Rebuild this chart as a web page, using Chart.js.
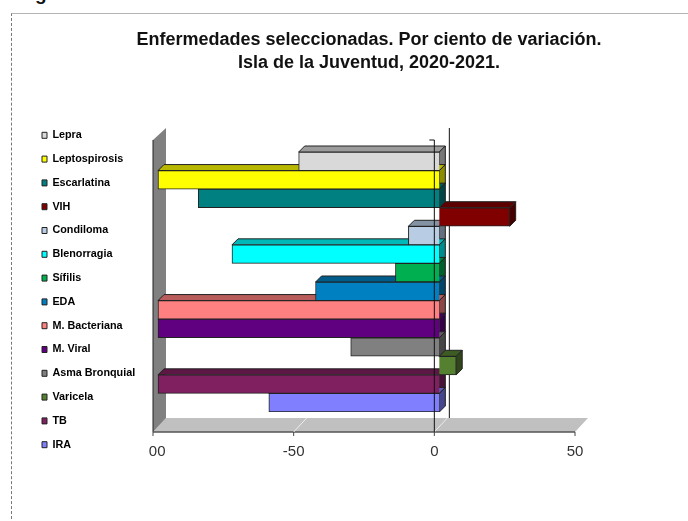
<!DOCTYPE html>
<html>
<head>
<meta charset="utf-8">
<script src="https://cdn.jsdelivr.net/npm/chart.js@4"></script>
<style>
  html, body { margin: 0; padding: 0; background: #fff; overflow: hidden; }
  #page { position: relative; width: 688px; height: 521px; overflow: hidden; }
  #frame { position: absolute; left: 11px; top: 13px; width: 680px; height: 510px; border-top: 1px solid #b5b5b5; border-left: 1px dashed #777; }
  #cut { position: absolute; left: 35px; top: -17px; font: bold 19px "Liberation Sans", Arial, sans-serif; color: #111; }
  canvas { position: absolute; left: 29px; top: 0; }
</style>
</head>
<body>
<div id="page">
  <div id="frame"></div>
  <div id="cut">g</div>
  <canvas id="chart" width="680" height="521"></canvas>
</div>
<script>
const categories = ['Lepra', 'Leptospirosis', 'Escarlatina', 'VIH', 'Condiloma', 'Blenorragia', 'Sífilis', 'EDA', 'M. Bacteriana', 'M. Viral', 'Asma Bronquial', 'Varicela', 'TB', 'IRA'];
const variation = [-50, -100, -85.7, 25, -11, -73.7, -15.6, -44, -100, -100, -31.5, 6, -100, -60.6];
const barColors = ['#d9d9d9', '#ffff00', '#008080', '#800000', '#b8cce4', '#00ffff', '#00b050', '#0080c0', '#ff8080', '#600080', '#808080', '#558030', '#802060', '#8080ff'];
const tickValues = [-100, -50, 0, 50];
const tickLabels = ['  00', '-50', '0', '50'];

const AREA_LEFT = 124;   // canvas px where the -100 tick sits
const RIGHT_GAP = 134;
const BAR_SHIFT = 5 / 2.813; // bars sit a little behind the axis plane, in axis units
const BAR_DEPTH = 6;
const LEGEND_DROP = 48;

function darken(hex, f) {
  const n = parseInt(hex.slice(1), 16);
  const r = Math.round((n >> 16 & 255) * f);
  const g = Math.round((n >> 8 & 255) * f);
  const b = Math.round((n & 255) * f);
  return `rgb(${r},${g},${b})`;
}

function poly(ctx, pts, fill, stroke) {
  ctx.beginPath();
  pts.forEach((p, i) => i ? ctx.lineTo(p[0], p[1]) : ctx.moveTo(p[0], p[1]));
  ctx.closePath();
  ctx.fillStyle = fill;
  ctx.fill();
  if (stroke) {
    ctx.strokeStyle = stroke;
    ctx.lineWidth = 1;
    ctx.stroke();
  }
}

function line(ctx, x1, y1, x2, y2, color, w) {
  ctx.beginPath();
  ctx.moveTo(x1, y1);
  ctx.lineTo(x2, y2);
  ctx.strokeStyle = color;
  ctx.lineWidth = w || 1;
  ctx.stroke();
}

// walls, floor and the top/right faces of the bars
const box3d = {
  id: 'box3d',
  afterLayout(chart) {
    chart.legend.top += LEGEND_DROP;
    chart.legend.bottom += LEGEND_DROP;
  },
  beforeDatasetsDraw(chart) {
    const ctx = chart.ctx;
    const xs = chart.scales.x;
    const area = chart.chartArea;
    const top = area.top - 12;
    const bottom = area.bottom + 20;
    const dx = 13;
    const dy = 14;
    const left = xs.getPixelForValue(-100);
    const right = xs.getPixelForValue(50);
    const zero = xs.getPixelForValue(0);
    ctx.save();
    poly(ctx, [[left, bottom], [left + dx, bottom - dy], [right + dx, bottom - dy], [right, bottom]], '#c0c0c0');
    poly(ctx, [[left, top], [left + dx, top - 12], [left + dx, bottom - dy], [left, bottom]], '#808080');
    line(ctx, left, top, left, bottom, '#222');
    line(ctx, left, bottom, right, bottom, '#555', 1.5);
    tickValues.forEach((v) => {
      const p = xs.getPixelForValue(v);
      line(ctx, p, bottom, p, bottom + 4, '#444');
      if (v > -100 && v < 50) line(ctx, p, bottom, p + dx, bottom - dy, '#eee');
    });
    line(ctx, zero + 15, top - 12, zero + 15, bottom - dy, '#111');
    chart.getDatasetMeta(0).data.forEach((bar, i) => {
      const l = Math.min(bar.x, bar.base);
      const r = Math.max(bar.x, bar.base);
      const t = bar.y - bar.height / 2;
      const b = bar.y + bar.height / 2;
      const c = barColors[i];
      poly(ctx, [[l, t], [l + BAR_DEPTH, t - BAR_DEPTH], [r + BAR_DEPTH, t - BAR_DEPTH], [r, t]], darken(c, 0.72), '#222');
      poly(ctx, [[r, t], [r + BAR_DEPTH, t - BAR_DEPTH], [r + BAR_DEPTH, b - BAR_DEPTH], [r, b]], darken(c, 0.55), '#222');
    });
    ctx.restore();
  },
  afterDatasetsDraw(chart) {
    const ctx = chart.ctx;
    const zero = chart.scales.x.getPixelForValue(0);
    const area = chart.chartArea;
    ctx.save();
    line(ctx, zero, area.top - 12, zero, area.bottom + 20, '#111');
    line(ctx, zero - 5, area.top - 12, zero, area.top - 12, '#111');
    ctx.restore();
  }
};

new Chart(document.getElementById('chart'), {
  type: 'bar',
  data: {
    labels: categories,
    datasets: [{
      data: variation,
      xAxisID: 'xBars',
      backgroundColor: barColors,
      borderColor: '#222',
      borderWidth: 1,
      barPercentage: 1,
      categoryPercentage: 1
    }]
  },
  options: {
    indexAxis: 'y',
    responsive: false,
    animation: false,
    devicePixelRatio: 1,
    layout: { padding: { top: 0, right: 0, bottom: 37, left: 0 } },
    plugins: {
      title: {
        display: true,
        text: ['Enfermedades seleccionadas. Por ciento de variación.', 'Isla de la Juventud, 2020-2021.'],
        color: '#111',
        font: { family: '"Liberation Sans"', size: 18, weight: 'bold', lineHeight: 1.25 },
        padding: { top: 29, bottom: 78 }
      },
      legend: {
        display: true,
        position: 'left',
        labels: {
          boxWidth: 5,
          boxHeight: 6,
          padding: 13,
          color: '#222',
          font: { family: '"Liberation Sans"', size: 10.8, weight: 'bold' },
          generateLabels: () => categories.map((name, i) => ({
            text: name,
            fillStyle: barColors[i],
            strokeStyle: '#222',
            lineWidth: 1,
            index: i
          }))
        }
      },
      tooltip: { enabled: false }
    },
    scales: {
      x: {
        type: 'linear',
        axis: 'x',
        position: 'bottom',
        min: -100,
        max: 50,
        grid: { display: false },
        border: { display: false },
        afterBuildTicks: (scale) => { scale.ticks = tickValues.map((value) => ({ value })); },
        ticks: {
          padding: 23,
          maxRotation: 0,
          autoSkip: false,
          color: '#333',
          font: { family: '"Liberation Sans"', size: 15 },
          callback: (value) => tickLabels[tickValues.indexOf(value)]
        }
      },
      xBars: {
        type: 'linear',
        axis: 'x',
        display: false,
        min: -100 - BAR_SHIFT,
        max: 50 - BAR_SHIFT
      },
      y: {
        type: 'category',
        position: 'left',
        offset: true,
        grid: { display: false },
        border: { display: false },
        ticks: { display: false },
        afterFit: (scale) => { scale.width = Math.max(0, AREA_LEFT - (scale.chart.legend.width || 0)); }
      },
      yRight: {
        type: 'linear',
        axis: 'y',
        position: 'right',
        grid: { display: false },
        border: { display: false },
        ticks: { display: false },
        afterFit: (scale) => { scale.width = RIGHT_GAP; }
      }
    }
  },
  plugins: [box3d]
});
</script>
</body>
</html>
